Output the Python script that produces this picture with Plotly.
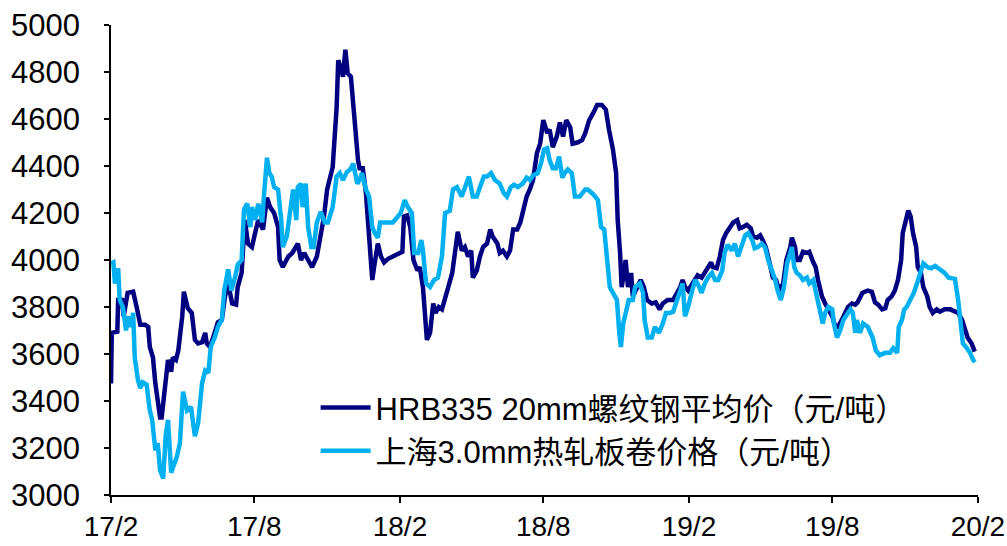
import datetime as dt
import plotly.graph_objects as go

# ---- data (day offset from 2017-02-01, price in 元/吨) ----
start_date = dt.date(2017, 2, 1)

hrb_name = "HRB335 20mm螺纹钢平均价（元/吨）"
hrb_points = [
    (0, 3475), (1, 3690), (8, 3695), (9, 3830), (14, 3830), (16, 3760), (21, 3860), (28, 3865),
    (33, 3790), (37, 3725), (43, 3725), (47, 3715), (49, 3630), (53, 3585), (56, 3475), (59, 3415),
    (62, 3330), (64, 3330), (68, 3445), (72, 3575), (76, 3525), (78, 3585), (82, 3575), (85, 3615),
    (90, 3760), (92, 3865), (97, 3795), (102, 3775), (106, 3660), (110, 3645), (115, 3650), (119, 3690),
    (121, 3645), (125, 3630), (129, 3670), (135, 3735), (140, 3745), (144, 3845), (148, 3900), (153, 3815),
    (158, 3810), (160, 3885), (165, 3945), (169, 4170), (173, 4070), (178, 4055), (182, 4115), (186, 4170),
    (192, 4130), (197, 4265), (201, 4225), (206, 4200), (211, 4140), (213, 4000), (217, 3970), (224, 4015),
    (229, 4030), (232, 4050), (236, 4070), (240, 4000), (244, 4030), (249, 4000), (254, 3970), (260, 4015),
    (265, 4100), (269, 4185), (273, 4300), (280, 4395), (285, 4650), (287, 4850), (290, 4820), (293, 4780),
    (296, 4895), (299, 4795), (303, 4780), (306, 4650), (309, 4540), (312, 4425), (314, 4390), (318, 4390),
    (322, 4285), (325, 4140), (327, 4000), (330, 3915), (333, 3985), (337, 4070), (341, 4015), (345, 3990),
    (350, 4005), (356, 4015), (362, 4020), (368, 4035), (370, 4185), (374, 4190), (378, 4140), (382, 4000),
    (387, 3955), (390, 3970), (394, 3885), (397, 3715), (399, 3660), (403, 3690), (407, 3815), (410, 3775),
    (414, 3800), (418, 3790), (422, 3845), (426, 3885), (431, 3945), (434, 4030), (438, 4120), (443, 4040),
    (447, 4055), (451, 4015), (455, 4040), (457, 3925), (462, 3955), (466, 4015), (470, 4055), (475, 4070),
    (479, 4130), (482, 4100), (488, 4070), (491, 4030), (495, 4040), (500, 4015), (504, 4040), (508, 4130),
    (513, 4130), (517, 4160), (520, 4200), (525, 4270), (529, 4300), (533, 4340), (538, 4455), (542, 4495),
    (546, 4595), (551, 4540), (554, 4555), (558, 4480), (563, 4525), (567, 4585), (571, 4525), (575, 4595),
    (580, 4565), (583, 4495), (589, 4500), (595, 4510), (599, 4540), (604, 4595), (609, 4625), (614, 4660),
    (620, 4660), (625, 4640), (629, 4555), (634, 4470), (638, 4370), (640, 4170), (643, 4030), (645, 3885),
    (648, 3945), (650, 4000), (653, 3885), (657, 3945), (659, 3845), (664, 3885), (669, 3915), (673, 3885),
    (677, 3830), (683, 3815), (688, 3820), (693, 3790), (697, 3815), (703, 3830), (710, 3830), (715, 3860),
    (719, 3885), (722, 3915), (725, 3885), (729, 3870), (734, 3900), (738, 3925), (741, 3935), (746, 3925),
    (750, 3945), (754, 3970), (758, 3990), (760, 3970), (765, 3965), (769, 4015), (773, 4085), (777, 4115),
    (782, 4140), (786, 4160), (791, 4170), (794, 4135), (798, 4140), (803, 4150), (808, 4135), (811, 4100),
    (816, 4095), (820, 4105), (823, 4085), (827, 4055), (832, 3985), (836, 3925), (840, 3915), (844, 3870),
    (849, 3900), (853, 4000), (858, 4055), (860, 4095), (864, 4055), (866, 4000), (870, 4000), (874, 4035),
    (879, 4030), (882, 4035), (887, 3990), (890, 3970), (893, 3915), (898, 3845), (902, 3815), (906, 3790),
    (911, 3760), (915, 3715), (918, 3715), (923, 3745), (927, 3775), (931, 3800), (936, 3815), (940, 3810),
    (943, 3820), (949, 3860), (952, 3865), (956, 3870), (961, 3865), (965, 3820), (969, 3810), (974, 3790),
    (978, 3795), (981, 3830), (986, 3845), (990, 3870), (994, 3915), (998, 4000), (1000, 4115), (1005, 4200),
    (1007, 4210), (1010, 4185), (1013, 4115), (1017, 4055), (1019, 3970), (1023, 3945), (1026, 3885), (1031, 3845),
    (1034, 3800), (1038, 3775), (1043, 3790), (1047, 3780), (1053, 3790), (1060, 3790), (1066, 3780), (1070, 3775),
    (1075, 3745), (1079, 3700), (1082, 3670), (1087, 3645), (1091, 3610),
]

hrc_name = "上海3.0mm热轧板卷价格（元/吨）"
hrc_points = [
    (0, 3985), (3, 3990), (5, 3900), (9, 3965), (11, 3830), (15, 3800), (19, 3700), (21, 3760),
    (25, 3715), (28, 3775), (30, 3585), (34, 3490), (37, 3455), (40, 3480), (45, 3470), (49, 3360),
    (52, 3320), (56, 3190), (59, 3220), (62, 3105), (66, 3070), (69, 3250), (72, 3320), (76, 3095),
    (78, 3115), (83, 3160), (87, 3220), (91, 3440), (96, 3360), (101, 3375), (106, 3250), (110, 3305),
    (115, 3475), (119, 3530), (123, 3520), (126, 3630), (131, 3670), (135, 3715), (140, 3745), (143, 3870),
    (148, 3960), (152, 3870), (157, 3930), (160, 3980), (165, 4000), (168, 4215), (172, 4240), (176, 4140),
    (178, 4225), (182, 4170), (186, 4240), (191, 4160), (193, 4265), (197, 4435), (200, 4370), (203, 4355),
    (206, 4310), (211, 4300), (215, 4170), (217, 4055), (222, 4100), (226, 4200), (230, 4300), (234, 4170),
    (236, 4310), (240, 4325), (242, 4225), (246, 4325), (249, 4140), (253, 4055), (256, 4055), (260, 4160),
    (265, 4205), (270, 4160), (274, 4160), (280, 4225), (285, 4355), (289, 4370), (293, 4340), (298, 4375),
    (302, 4385), (306, 4410), (311, 4325), (314, 4340), (317, 4370), (322, 4300), (326, 4270), (330, 4140),
    (333, 4115), (337, 4095), (340, 4160), (346, 4160), (356, 4160), (361, 4180), (366, 4200), (371, 4255),
    (375, 4225), (380, 4200), (383, 4030), (388, 4030), (392, 4085), (394, 4040), (398, 3900), (403, 3885),
    (408, 3915), (413, 3925), (418, 4015), (422, 4200), (428, 4210), (432, 4300), (437, 4310), (443, 4270),
    (447, 4310), (452, 4355), (457, 4270), (462, 4270), (466, 4310), (471, 4355), (475, 4355), (480, 4370),
    (485, 4340), (491, 4325), (496, 4285), (500, 4270), (505, 4310), (509, 4320), (514, 4310), (520, 4325),
    (525, 4350), (529, 4340), (533, 4360), (539, 4370), (543, 4410), (547, 4470), (551, 4475), (554, 4425),
    (558, 4390), (562, 4390), (566, 4440), (570, 4350), (573, 4370), (577, 4385), (582, 4370), (586, 4270),
    (592, 4270), (599, 4300), (602, 4300), (609, 4280), (615, 4255), (619, 4140), (623, 4130), (626, 4030),
    (630, 3885), (634, 3860), (639, 3830), (642, 3690), (644, 3630), (647, 3730), (652, 3800), (654, 3830),
    (659, 3830), (662, 3885), (668, 3900), (672, 3860), (674, 3745), (678, 3670), (683, 3670), (687, 3715),
    (692, 3690), (697, 3730), (701, 3775), (706, 3775), (710, 3780), (715, 3830), (719, 3885), (722, 3900),
    (725, 3760), (729, 3800), (734, 3870), (738, 3915), (741, 3900), (746, 3860), (750, 3900), (754, 3925),
    (759, 3945), (763, 3915), (767, 3915), (772, 3955), (775, 4030), (779, 4065), (784, 4040), (788, 4070),
    (792, 4015), (797, 4070), (801, 4105), (805, 4115), (810, 4085), (813, 4050), (817, 4055), (822, 4070),
    (826, 4055), (830, 4000), (835, 3955), (839, 3915), (842, 3870), (846, 3830), (850, 3885), (854, 3985),
    (858, 4030), (860, 4055), (863, 3970), (866, 3945), (870, 3935), (874, 3915), (879, 3925), (882, 3900),
    (887, 3915), (889, 3885), (892, 3830), (896, 3790), (899, 3730), (902, 3775), (906, 3800), (911, 3790),
    (913, 3730), (917, 3670), (921, 3700), (925, 3745), (930, 3775), (934, 3790), (937, 3775), (940, 3690),
    (942, 3745), (946, 3690), (950, 3730), (956, 3715), (962, 3670), (966, 3615), (971, 3595), (978, 3605),
    (984, 3605), (988, 3625), (993, 3605), (995, 3715), (999, 3745), (1002, 3790), (1005, 3800), (1010, 3830),
    (1014, 3860), (1018, 3900), (1022, 3945), (1026, 3985), (1031, 3970), (1036, 3965), (1041, 3975), (1047, 3960),
    (1053, 3945), (1058, 3925), (1066, 3920), (1070, 3830), (1073, 3715), (1076, 3645), (1081, 3625), (1085, 3605),
    (1089, 3575), (1091, 3565),
]

tick_dates = ["2017-02-01", "2017-08-01", "2018-02-01", "2018-08-01",
              "2019-02-01", "2019-08-01", "2020-02-01"]
tick_labels = ["17/2", "17/8", "18/2", "18/8", "19/2", "19/8", "20/2"]
y_ticks = list(range(3000, 5001, 200))

hrb_color = "#000080"
hrc_color = "#00B0F0"
font_family = "Liberation Sans, Arial, Noto Sans CJK SC, sans-serif"


def to_xy(points):
    xs = [start_date + dt.timedelta(days=d) for d, _ in points]
    ys = [v for _, v in points]
    return xs, ys


fig = go.Figure()
hx, hy = to_xy(hrb_points)
cx, cy = to_xy(hrc_points)
fig.add_trace(go.Scatter(x=hx, y=hy, mode="lines", name=hrb_name, legendgroup="a",
                         line=dict(color=hrb_color, width=4.5)))
fig.add_trace(go.Scatter(x=cx, y=cy, mode="lines", name=hrc_name, legendgroup="b",
                         line=dict(color=hrc_color, width=4.5)))

fig.update_layout(
    width=1007, height=546,
    margin=dict(l=111, r=29, t=25, b=51),
    paper_bgcolor="white", plot_bgcolor="white",
    font=dict(family=font_family, size=31, color="black"),
    showlegend=True,
    legend=dict(x=0.236, y=0.243, xanchor="left", yanchor="top",
                bgcolor="rgba(0,0,0,0)", font=dict(size=31), tracegroupgap=0,
                itemwidth=50),
    xaxis=dict(
        type="date",
        range=["2017-02-01", "2020-02-01 02:00"],
        tickmode="array", tickvals=tick_dates, ticktext=tick_labels,
        showgrid=False, zeroline=False, automargin=False,
        ticklabeloverflow="allow",
        showline=True, linecolor="black", linewidth=1.5,
        ticks="outside", ticklen=6, tickwidth=1.5, tickcolor="black",
        tickfont=dict(size=28),
    ),
    yaxis=dict(
        range=[3000, 5000],
        tickmode="array", tickvals=y_ticks,
        showgrid=False, zeroline=False, automargin=False,
        ticklabeloverflow="allow",
        showline=True, linecolor="black", linewidth=1.5,
        ticks="outside", ticklen=5, tickwidth=1.5, tickcolor="black",
        tickfont=dict(size=31),
        ticklabelstandoff=18,
    ),
)

fig.write_html("out.html")
